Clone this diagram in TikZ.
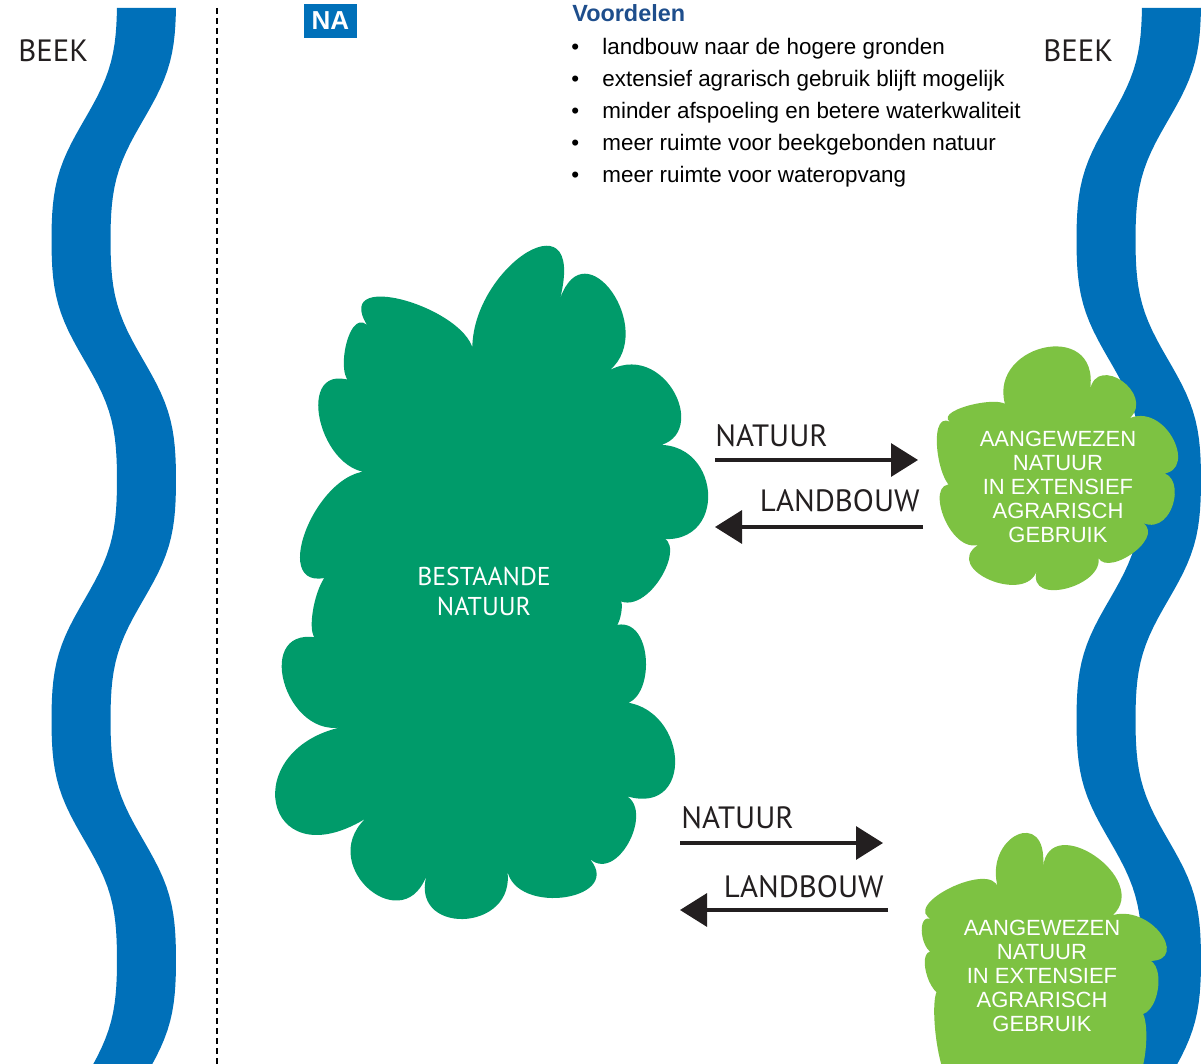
\documentclass[tikz,border=0pt]{standalone}
\usepackage{fontspec}
\setmainfont{Liberation Sans}
\newfontfamily\myriad{PT Sans}
\usetikzlibrary{arrows.meta,calc,positioning}

\definecolor{beekblauw}{RGB}{0,112,185}
\definecolor{natuurgroen}{RGB}{0,155,106}
\definecolor{lichtgroen}{RGB}{125,194,66}
\definecolor{titelblauw}{RGB}{30,78,140}
\definecolor{pijlzwart}{RGB}{35,31,32}

% one puff of a cloud: from #1 through #2 to #3
\newcommand\lobe[3]{.. controls ($0.558*(#1)+1.334*(#2)-0.892*(#3)$) and ($0.558*(#3)+1.334*(#2)-0.892*(#1)$) .. (#3)}

\begin{document}
\begin{tikzpicture}[x=0.5pt, y=-0.5pt,
  declare function={golf(\t)=(cos(\t)-0.08*cos(3*\t))/0.92;},
  rivier/.style={fill=beekblauw},
  tekst/.style={font=\myriad\fontsize{15.4}{18}\selectfont, text=pijlzwart, inner sep=0pt},
  wit/.style={font=\myriad\fontsize{12.9}{15}\selectfont, text=white, align=center, inner sep=0pt},
  gebied/.style={font=\fontsize{11}{11.9}\selectfont, text=white, align=center, inner sep=0pt},
  punt/.style={font=\fontsize{11.2}{14}\selectfont, inner sep=0pt, anchor=base west},
  pijl/.style={draw=pijlzwart, line width=1.65pt, -{Triangle[length=13.5pt,width=16.5pt]}}]

\useasboundingbox (0,0) rectangle (1201,1064);
\clip (0,0) rectangle (1201,1064);

% beken
\fill [rivier] plot [domain=8:1075, samples=120] ({84.25+32.75*golf(\x*0.75)}, \x)
  -- plot [domain=1075:8, samples=120] ({143.25+32.75*golf(\x*0.75)}, \x) -- cycle;
\fill [rivier] plot [domain=8:1075, samples=120] ({1109.25+32.75*golf(\x*0.75)}, \x)
  -- plot [domain=1075:8, samples=120] ({1168.25+32.75*golf(\x*0.75)}, \x) -- cycle;
\draw [line width=0.65pt, dash pattern=on 3pt off 2pt] (217,8) -- (217,1064);

\node [tekst, anchor=base west] (beek_links) at (18,62) {BEEK};
\node [tekst, anchor=base west] (beek_rechts) at (1043,62) {BEEK};

% kop
\node [fill=beekblauw, text=white, font=\bfseries\fontsize{13}{14}\selectfont,
  minimum width=26.5pt, minimum height=17pt, inner sep=0pt] (na) at (330.5,21) {NA};
\node [anchor=base west, inner sep=0pt, text=titelblauw,
  font=\bfseries\fontsize{11.7}{12}\selectfont] (voordelen) at (572,22) {Voordelen};
\foreach \regel [count=\i] in {landbouw naar de hogere gronden,
    extensief agrarisch gebruik blijft mogelijk,
    minder afspoeling en betere waterkwaliteit,
    meer ruimte voor beekgebonden natuur,
    meer ruimte voor wateropvang} {
  \node [punt] (bullet_\i) at (571,23+32*\i) {\textbullet};
  \node [punt] (voordeel_\i) at (602,23+32*\i) {\regel};
}

% bestaande natuur
\fill [natuurgroen] (473,359) \lobe{473,359}{523,255}{560,299} \lobe{560,299}{612,292}{610,370}
  \lobe{610,370}{677,398}{643,447} \lobe{643,447}{708,492}{650,537}
  \lobe{650,537}{664,572}{618,600} \lobe{618,600}{621,614}{613,626}
  \lobe{613,626}{646,665}{612,702} \lobe{612,702}{675,758}{618,793}
  \lobe{618,793}{630,840}{587,856} \lobe{587,856}{566,897}{507,869}
  \lobe{507,869}{463,919}{428,871} \lobe{428,871}{370,890}{365,819}
  \lobe{365,819}{276,803}{347,726} \lobe{347,726}{284,682}{323,639}
  \lobe{323,639}{314,605}{337,574} \lobe{337,574}{306,530}{377,472}
  \lobe{377,472}{320,420}{357,383} \lobe{357,383}{345,350}{367,325}
  \lobe{367,325}{410,302}{473,359} -- cycle;
\node [wit] (bestaand) at (484,591) {BESTAANDE\\NATUUR};

% aangewezen natuur, boven
\fill [lichtgroen] (1007,410) \lobe{1007,410}{1043,348}{1090,390} \lobe{1090,390}{1122,381}{1130,418}
  \lobe{1130,418}{1175,443}{1153,473} \lobe{1153,473}{1174,500}{1143,523}
  \lobe{1143,523}{1130,555}{1097,553} \lobe{1097,553}{1068,588}{1037,570}
  \lobe{1037,570}{990,580}{978,545} \lobe{978,545}{942,512}{960,487}
  \lobe{960,487}{938,455}{950,422} \lobe{950,422}{975,404}{1007,410} -- cycle;
\node [gebied] (aangewezen_1) at (1058,487) {AANGEWEZEN\\NATUUR\\IN EXTENSIEF\\AGRARISCH\\GEBRUIK};

% aangewezen natuur, onder
\fill [lichtgroen] (998,888) \lobe{998,888}{1017,835}{1043,867} \lobe{1043,867}{1095,856}{1113,915}
  \lobe{1113,915}{1163,937}{1140,960} \lobe{1140,960}{1158,988}{1133,1013}
  \lobe{1133,1013}{1146,1045}{1128,1085} -- (955,1085)
  \lobe{955,1085}{935,1028}{947,995} \lobe{947,995}{926,972}{937,953}
  \lobe{937,953}{922,934}{933,920} \lobe{933,920}{950,888}{998,888} -- cycle;
\node [gebied] (aangewezen_2) at (1042,976) {AANGEWEZEN\\NATUUR\\IN EXTENSIEF\\AGRARISCH\\GEBRUIK};

% pijlen
\coordinate (natuur_1_van) at (715,460);
\coordinate (natuur_1_naar) at (918,460);
\coordinate (landbouw_1_van) at (923,527);
\coordinate (landbouw_1_naar) at (715,527);
\coordinate (natuur_2_van) at (680,843);
\coordinate (natuur_2_naar) at (883,843);
\coordinate (landbouw_2_van) at (888,910);
\coordinate (landbouw_2_naar) at (680,910);

\draw [pijl] (natuur_1_van) -- (natuur_1_naar);
\draw [pijl] (landbouw_1_van) -- (landbouw_1_naar);
\draw [pijl] (natuur_2_van) -- (natuur_2_naar);
\draw [pijl] (landbouw_2_van) -- (landbouw_2_naar);

\node [tekst, anchor=base west] (natuur_1) at (715,447) {NATUUR};
\node [tekst, anchor=base east] (landbouw_1) at (920,512) {LANDBOUW};
\node [tekst, anchor=base west] (natuur_2) at (681,828) {NATUUR};
\node [tekst, anchor=base east] (landbouw_2) at (884,897) {LANDBOUW};
\end{tikzpicture}
\end{document}
